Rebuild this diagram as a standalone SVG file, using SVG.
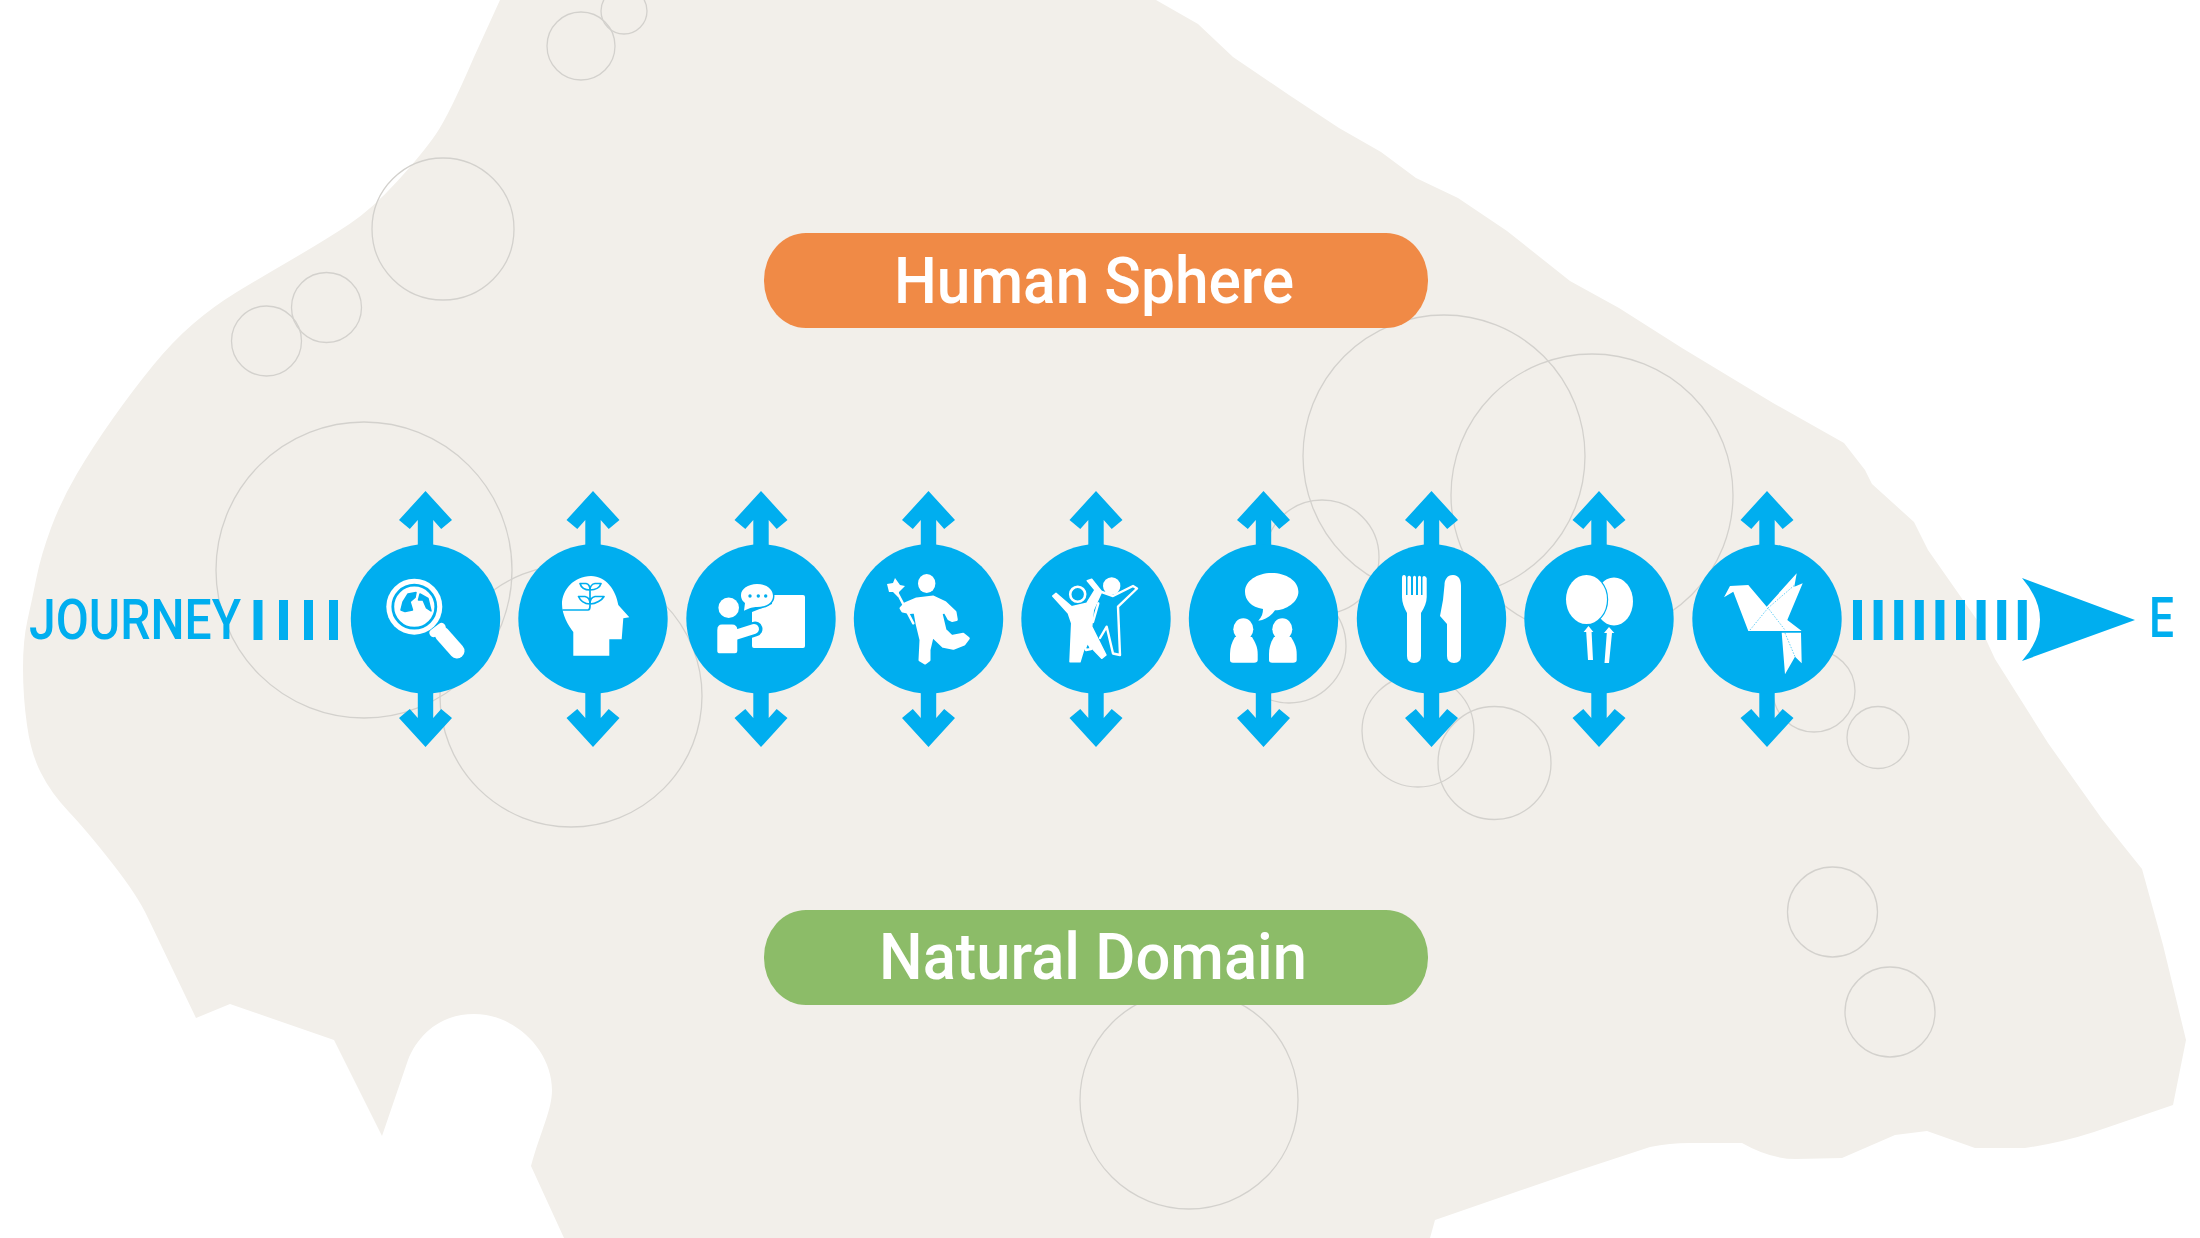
<svg xmlns="http://www.w3.org/2000/svg" width="2200" height="1238" viewBox="0 0 2200 1238">
  <style>
    .bubble { fill: none; stroke: #d3d1cd; stroke-width: 1.3; }
    .disc { fill: #00aeef; }
    .w { fill: #fff; }
    .ws { fill: none; stroke: #fff; stroke-linecap: round; stroke-linejoin: round; }
    .bs { fill: none; stroke: #00aeef; stroke-linecap: round; stroke-linejoin: round; }
    .bar { fill: #00aeef; }
    .lab { font-family: "Roboto", "Liberation Sans", sans-serif; font-weight: 500; fill: #fff; font-size: 65px; }
    .route { font-family: "Roboto", "Liberation Sans", sans-serif; font-weight: 500; fill: #00aeef; font-size: 55px; }
  </style>
  <defs>
    <path id="two-way" class="disc" d="M0,491 L26.5,520 L15.7,529 L7.7,520 L7.7,550 L-7.7,550 L-7.7,520 L-15.7,529 L-26.5,520 Z M0,747 L26.5,718 L15.7,709 L7.7,718 L7.7,688 L-7.7,688 L-7.7,718 L-15.7,709 L-26.5,718 Z"/>
  </defs>

  <rect width="2200" height="1238" fill="#fff"/>

  <!-- Landmass -->
  <path id="land" fill="#f2efea" d="M500,0 L474,57 Q449,115 436,134 Q423,153 397.5,181 Q372,209 349.5,224 Q327,239 291,260 Q255,281 234.5,293.5 Q214,306 193.5,323.5 Q173,341 153,365.5 Q133,390 112.5,419 Q92,448 76.5,474.5 Q61,501 51,528 Q41,555 36.5,577.5 Q32,600 27.5,620 Q23,640 23,668 Q23,697 27,725 Q31,754 41,773 Q51,793 69,812 Q87,831 112,863 Q138,896 148,918 L196,1018 L230,1004 L334,1040 L382,1136 L408,1060 C418,1035 440,1014 474,1014 C515,1014 552,1050 552,1090 C552,1110 541,1130 531,1166 L564,1238 L1430,1238 L1435,1220 L1574,1172 L1650,1147 Q1670,1143 1689,1143 L1742,1143 Q1770,1159 1796,1159 L1842,1158 L1895,1135 L1927,1131 L1975,1148 L2025,1148 Q2060,1143 2094,1132 L2173,1105 L2186,1040 L2163,945 L2142,869 L2102,819 L2048,743 L1995,659 L1977,620 L1928,550 L1914,522 L1872,484 L1865,470 L1844,443 L1773,403 L1682,348 L1619,308 L1570,281 L1507,231 L1458,198 L1416,178 L1381,152 L1339,128 L1289,95 L1233,57 L1198,24 L1156,0 Z"/>

  <!-- Thin outlined bubbles on the land -->
  <g id="bubbles" class="bubble">
    <circle cx="581" cy="46" r="34"/>
    <circle cx="624" cy="11" r="23"/>
    <circle cx="443" cy="229" r="71"/>
    <circle cx="326.5" cy="307.5" r="35"/>
    <circle cx="266.5" cy="341" r="35"/>
    <circle cx="364" cy="570" r="148"/>
    <circle cx="571" cy="696" r="131"/>
    <circle cx="1444" cy="456" r="141"/>
    <circle cx="1592" cy="495" r="141"/>
    <circle cx="1322" cy="557" r="57"/>
    <circle cx="1289" cy="646" r="57"/>
    <circle cx="1418" cy="731" r="56"/>
    <circle cx="1494.5" cy="763" r="56.5"/>
    <circle cx="1814" cy="691" r="41"/>
    <circle cx="1878" cy="737.5" r="31"/>
    <circle cx="1832.5" cy="912" r="45"/>
    <circle cx="1890" cy="1012" r="45"/>
    <circle cx="1189" cy="1100" r="109"/>
  </g>

  <!-- Route: dashes, vertical links and the end arrow -->
  <g id="connectors">
    <g id="dashes-in">
      <rect class="bar" x="253.5" y="600" width="9" height="40"/>
      <rect class="bar" x="279" y="600" width="9" height="40"/>
      <rect class="bar" x="304" y="600" width="9" height="40"/>
      <rect class="bar" x="329" y="600" width="9" height="40"/>
    </g>
    <g id="dashes-out">
      <rect class="bar" x="1853" y="600" width="9" height="40"/>
      <rect class="bar" x="1873.6" y="600" width="9" height="40"/>
      <rect class="bar" x="1894.2" y="600" width="9" height="40"/>
      <rect class="bar" x="1914.8" y="600" width="9" height="40"/>
      <rect class="bar" x="1935.4" y="600" width="9" height="40"/>
      <rect class="bar" x="1956" y="600" width="9" height="40"/>
      <rect class="bar" x="1976.6" y="600" width="9" height="40"/>
      <rect class="bar" x="1997.2" y="600" width="9" height="40"/>
      <rect class="bar" x="2017.8" y="600" width="9" height="40"/>
    </g>
    <path id="end-arrow" class="bar" d="M2022,578 L2135,620 L2022,661 Q2058,620 2022,578 Z"/>
    <use href="#two-way" x="425.5"/>
    <use href="#two-way" x="593"/>
    <use href="#two-way" x="761"/>
    <use href="#two-way" x="928.5"/>
    <use href="#two-way" x="1096"/>
    <use href="#two-way" x="1263.5"/>
    <use href="#two-way" x="1431.5"/>
    <use href="#two-way" x="1599"/>
    <use href="#two-way" x="1767"/>
  </g>

  <text id="journey" class="route" x="29" y="639" textLength="212" lengthAdjust="spacingAndGlyphs">JOURNEY</text>
  <text id="end-e" class="route" x="2149" y="637" textLength="25" lengthAdjust="spacingAndGlyphs">E</text>

  <g id="human-sphere">
    <rect x="764" y="233" width="664" height="95" rx="42" ry="47" fill="#f08a46"/>
    <text class="lab" x="894" y="303" textLength="400" lengthAdjust="spacingAndGlyphs">Human Sphere</text>
  </g>
  <g id="natural-domain">
    <rect x="764" y="910" width="664" height="95" rx="42" ry="47" fill="#8cbc68"/>
    <text class="lab" x="879" y="979" textLength="428" lengthAdjust="spacingAndGlyphs">Natural Domain</text>
  </g>

  <!-- Magnifier over a globe -->
  <g id="node-search">
    <circle class="disc" cx="425.5" cy="619" r="74.7"/>
    <circle class="w" cx="414.3" cy="606.7" r="28"/>
    <circle fill="none" stroke="#00aeef" stroke-width="2.8" cx="414.3" cy="606.7" r="21.5"/>
    <path class="disc" stroke="#00aeef" stroke-width="1.5" stroke-linejoin="round" d="M401,610 L403,602 L408,594 L416,592.5 L415,597.5 L410,601.7 L412.5,610 L405,611.5 Z M420,594 L428,598.5 L431,611 L426.5,608 L423,600 L418.5,600 Z"/>
    <path class="ws" stroke-width="8" d="M433.5,633 L441.5,627"/>
    <path class="ws" stroke-width="15" d="M442,634 L457,651"/>
  </g>

  <!-- Head with a sprouting plant -->
  <g id="node-mind">
    <circle class="disc" cx="593" cy="619" r="74.7"/>
    <path class="w" d="M573.3,655.7 L609.3,655.7 L609.3,639.3 L621.7,639.3 L623.3,618.3 L629.3,617.3 L618.3,605 C616,590 606,576 591,576 C574,576 562,590 562,604 C562,615 568,625 573.3,632 Z"/>
    <path class="bs" stroke-width="1.7" d="M563,610 L588,610 Q590,610 590,606 L590,590 M590,590 C584,590 581,587 580,583.5 L586,583.5 C589,584 590,587 590,590 C590,587 592,584 595,583.5 L601,583.5 C600,587 596,590 590,590 M590,604 C584,604 580,600 578.5,596.5 L585,596.5 C588,597 590,600 590,604 C590,600 592,597 595,596.5 L604,596.5 C602,600 596,604 590,604"/>
  </g>

  <!-- Presenter at a board -->
  <g id="node-teach">
    <circle class="disc" cx="761" cy="619" r="74.7"/>
    <path class="w" d="M772,595 L803,595 Q805,595 805,597 L805,646 Q805,648 803,648 L754,648 Q752,648 752,646 L752,612 L772,604 Z"/>
    <path class="bs" stroke-width="15" d="M737,635 L755,629"/>
    <circle class="w" cx="728.7" cy="607.7" r="10.3"/>
    <path class="w" d="M722,624.5 L732,624.5 Q737.3,624.5 737.3,630 L737.3,651 Q737.3,653.3 735,653.3 L720,653.3 Q717.3,653.3 717.3,651 L717.3,630 Q717.3,624.5 722,624.5 Z"/>
    <path class="ws" stroke-width="10" d="M735,635 L754,629"/>
    <path class="w" stroke="#00aeef" stroke-width="3" paint-order="stroke" d="M744,610.7 L745,603 C741,600 741,596 741,595 C741,589 748,584 757,584 C766,584 773,589 773,596 C773,603 766,607 757,607 C753,607 750,608 744,610.7 Z"/>
    <circle class="disc" cx="750" cy="596" r="1.7"/>
    <circle class="disc" cx="758.3" cy="596" r="1.7"/>
    <circle class="disc" cx="765.7" cy="596" r="1.7"/>
  </g>

  <!-- Child running with a pinwheel -->
  <g id="node-play">
    <circle class="disc" cx="928.5" cy="619" r="74.7"/>
    <ellipse class="w" cx="926.7" cy="583.5" rx="8.7" ry="9.5"/>
    <path class="ws" stroke-width="2.5" d="M893.3,585 L913.3,623.3"/>
    <path class="w" d="M887,584 L893,583 L895,578 L900,585 L905,586 L899,592 L898,597 L893,592 L889,592 Z"/>
    <path class="w" stroke="#fff" stroke-width="3" stroke-linejoin="round" d="M901,608.3 L905,604 L916.7,599 L933.3,597 L945,602.5 L955,612 L956.3,619.5 L952,620.5 L949,619 L945,611.7 L941,613.3 L945,630 L951.7,636.5 L963.3,634.3 L968.3,638.3 L964,644 L953.3,648.3 L943.3,646.3 L932.3,636 L929,650 L929,660 L925,663 L920,660 L921,640 L917,623.3 L915,612 L910,612.5 L902.7,611 Z"/>
  </g>

  <!-- Two people dancing -->
  <g id="node-dance">
    <circle class="disc" cx="1096" cy="619" r="74.7"/>
    <path class="w" stroke="#fff" stroke-width="1.5" stroke-linejoin="round" d="M1052.7,596 L1056,593.3 L1071.7,606.7 L1086.7,603.3 L1095,590 L1087.3,580.7 L1091.7,579.3 L1101.7,591.7 L1093.3,610 L1091.7,626.7 L1106,655 L1101.7,658.3 L1086,642 L1080,661.7 L1070,661.7 L1071.7,623.3 L1068.3,613.3 Z"/>
    <circle class="disc" cx="1077.7" cy="594.3" r="9"/>
    <circle fill="none" stroke="#fff" stroke-width="2.6" cx="1077.7" cy="594.3" r="7.5"/>
    <circle class="w" cx="1111.7" cy="586" r="8.7"/>
    <path class="ws" stroke-width="2.4" d="M1101.7,592 L1113,596 L1133,586 L1137,588.5 L1118,606.7 L1120,655 L1113,653.5 L1106.7,626.7 L1100,638 M1098.3,603.3 L1093,622 M1085,648 L1086,650 L1091,649 L1088,641 Z"/>
  </g>

  <!-- Two people talking -->
  <g id="node-talk">
    <circle class="disc" cx="1263.5" cy="619" r="74.7"/>
    <path class="w" d="M1258.3,620.7 C1262,617 1263,613 1263,609 C1251,607 1245,600 1245,591.7 C1245,581 1257,573 1271.7,573 C1286.4,573 1298.4,581 1298.4,591.7 C1298.4,602 1286,610.3 1275,610.3 C1271,616 1265,620 1258.3,620.7 Z"/>
    <ellipse class="w" cx="1243.3" cy="629.3" rx="10" ry="11"/>
    <path class="w" d="M1235,637 L1252,637 C1255,642 1257.7,647 1257.7,654 L1257.7,660 Q1257.7,662.7 1254,662.7 L1233,662.7 Q1230,662.7 1230,660 L1230,654 C1230,647 1232,642 1235,637 Z"/>
    <ellipse class="w" cx="1282.3" cy="629.3" rx="10" ry="11"/>
    <path class="w" d="M1274,637 L1291,637 C1294,642 1296.7,647 1296.7,654 L1296.7,660 Q1296.7,662.7 1293,662.7 L1272,662.7 Q1269,662.7 1269,660 L1269,654 C1269,647 1271,642 1274,637 Z"/>
  </g>

  <!-- Fork and knife -->
  <g id="node-food">
    <circle class="disc" cx="1431.5" cy="619" r="74.7"/>
    <path class="w" d="M1402,578 Q1402,575 1404,575 Q1406,575 1406,578 L1406,595 L1407.5,595 L1407.5,577 Q1409,574.5 1411,577 L1411,595 L1413,595 L1413,577 Q1414.5,574.5 1416,577 L1416,595 L1418,595 L1418,577 Q1419.5,574.5 1421,577 L1421,595 L1422.5,595 L1422.5,577 Q1424.5,574.5 1426.7,578 L1426.7,597 Q1426.7,604 1421,613 L1421,656 Q1421,663 1414,663 Q1407,663 1407,656 L1407,613 Q1402,604 1402,597 Z"/>
    <path class="w" d="M1453,575 C1459,575 1461,580 1461,586 L1461,656 Q1461,663 1454,663 Q1447,663 1447,656 L1447,624 L1440,616 L1443,600 L1444.5,585 C1444.5,580 1447,575 1453,575 Z"/>
  </g>

  <!-- Pair of balloons -->
  <g id="node-party">
    <circle class="disc" cx="1599" cy="619" r="74.7"/>
    <ellipse class="w" cx="1614" cy="601.5" rx="19" ry="24"/>
    <ellipse class="w" stroke="#00aeef" stroke-width="2.4" paint-order="stroke" cx="1586.5" cy="599.5" rx="20.5" ry="24.5"/>
    <path class="w" d="M1588.5,626 L1583.6,632 L1586.2,632 L1588,660 L1593,660 L1591.6,632 L1593.4,632 Z"/>
    <path class="w" d="M1609,627 L1604,633 L1606.8,633 L1604.5,663 L1609,663 L1612,633 L1614.3,633 Z"/>
  </g>

  <!-- Folded paper crane -->
  <g id="node-crane">
    <circle class="disc" cx="1767" cy="619" r="74.7"/>
    <path class="w" d="M1724,597.3 L1730,586 L1748.3,585 L1766.7,606.7 L1796.7,573.3 L1794.3,586.7 L1802.7,583.3 L1787.3,620 L1801.7,631 L1748.3,631 L1733.3,591.7 Z"/>
    <path class="w" d="M1781.7,632.7 L1801,632.7 L1801.7,663.3 L1795,656.7 L1785,674.3 Z"/>
    <path fill="none" stroke="#00aeef" stroke-width="0.6" stroke-dasharray="1.5 1.5" d="M1750,630 L1768,608 L1785,630 M1768,608 L1796.7,583.3 M1785,633 L1795,656.7"/>
  </g>
</svg>
